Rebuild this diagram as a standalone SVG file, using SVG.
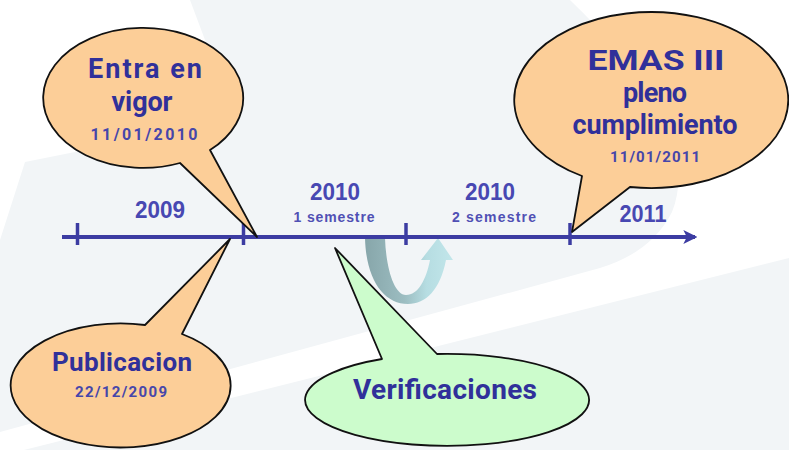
<svg xmlns="http://www.w3.org/2000/svg" width="789" height="450" viewBox="0 0 789 450">
  <defs>
    <style>
      .bg { fill: #f2f5f7; }
      .balloon { stroke: #111; stroke-width: 1.8; stroke-linejoin: round; }
      .peach { fill: #fcce98; }
      .green { fill: #ccfccc; }
      .bt { font-family: Roboto, "Liberation Sans", sans-serif; font-weight: bold; fill: #30309a; text-anchor: middle; }
      .date { font-family: Roboto, "Liberation Sans", sans-serif; font-weight: bold; fill: #4646aa; text-anchor: middle; }
      .year { font-family: "Liberation Sans", Arial, sans-serif; font-weight: bold; fill: #4848b2; text-anchor: middle; }
      .sem { font-family: "Liberation Sans", Arial, sans-serif; font-weight: bold; fill: #5050b4; text-anchor: middle; }
      .axis { stroke: #3c3ca2; stroke-width: 4; fill: none; }
      .tick { stroke: #3c3ca2; stroke-width: 3.5; }
    </style>
    <marker id="arrowEnd" viewBox="0 0 12 12" refX="10" refY="6" markerUnits="userSpaceOnUse" markerWidth="14" markerHeight="14" orient="auto">
      <path d="M0,0 L12,6 L0,12 L3,6 Z" fill="#3c3ca2"/>
    </marker>
    <linearGradient id="uturn" x1="365" y1="0" x2="453" y2="0" gradientUnits="userSpaceOnUse">
      <stop offset="0" stop-color="#87a6aa"/>
      <stop offset="0.45" stop-color="#9cbdc1"/>
      <stop offset="0.7" stop-color="#b6dde2"/>
      <stop offset="1" stop-color="#c2e6ea"/>
    </linearGradient>
  </defs>

  <!-- background -->
  <rect width="789" height="450" fill="#ffffff"/>
  <path class="bg" d="M190,0 L570,0 Q705,130 672,212 Q652,252 600,268 L0,432 L0,240 L25,162 L235,120 Z"/>
  <path class="bg" d="M0,456 L789,258 L789,450 Z"/>

  <!-- connectors: timeline and turn arrow -->
  <g id="connectors">
    <path id="uturn-arrow" d="M365,238 L385,238 C386,268 394,295 406,295 C418,295 426,280 430,260 L421,260 L438,238 L453,260 L446,260 C440,290 426,304 408,304 C384,304 366,280 365,238 Z" fill="url(#uturn)"/>
    <line class="axis" x1="62" y1="237" x2="695" y2="237" marker-end="url(#arrowEnd)"/>
    <line class="tick" x1="77.5" y1="223" x2="77.5" y2="245"/>
    <line class="tick" x1="243.5" y1="223" x2="243.5" y2="245"/>
    <line class="tick" x1="406" y1="223" x2="406" y2="245"/>
    <line class="tick" x1="570" y1="223" x2="570" y2="245"/>
  </g>

  <!-- period labels -->
  <g id="label-2009">
    <text class="year" x="160" y="218" font-size="23" textLength="50" lengthAdjust="spacingAndGlyphs">2009</text>
  </g>
  <g id="label-2010-1">
    <text class="year" x="335" y="200" font-size="23" textLength="50" lengthAdjust="spacingAndGlyphs">2010</text>
    <text class="sem" x="334" y="222" font-size="14" textLength="81">1 semestre</text>
  </g>
  <g id="label-2010-2">
    <text class="year" x="490" y="200" font-size="23" textLength="50" lengthAdjust="spacingAndGlyphs">2010</text>
    <text class="sem" x="494" y="222" font-size="14" textLength="84">2 semestre</text>
  </g>
  <g id="label-2011">
    <text class="year" x="643" y="222" font-size="23" textLength="47" lengthAdjust="spacingAndGlyphs">2011</text>
  </g>

  <!-- balloons -->
  <g id="node-entra">
    <path class="balloon peach" d="M180,163 A100,70 0 1 1 210,150 L257,237 Z"/>
    <text class="bt" x="145" y="78" font-size="27" textLength="114">Entra en</text>
    <text class="bt" x="142" y="111" font-size="27" textLength="61">vigor</text>
    <text class="date" x="144" y="140" font-size="16" textLength="107">11/01/2010</text>
  </g>

  <g id="node-emas">
    <path class="balloon peach" d="M582,176 A137,88 0 1 1 630,187 L572,232 Z"/>
    <text class="bt" x="656" y="70" font-size="28" textLength="137" lengthAdjust="spacingAndGlyphs">EMAS III</text>
    <text class="bt" x="655" y="102" font-size="27" textLength="64">pleno</text>
    <text class="bt" x="655" y="134" font-size="27" textLength="165">cumplimiento</text>
    <text class="date" x="655" y="162" font-size="15" textLength="90">11/01/2011</text>
  </g>

  <g id="node-publicacion">
    <path class="balloon peach" d="M182,334 A110,62 0 1 1 145,325 L230,239 Z"/>
    <text class="bt" x="122" y="371" font-size="26" textLength="140">Publicacion</text>
    <text class="date" x="121" y="397" font-size="15" textLength="92">22/12/2009</text>
  </g>

  <g id="node-verificaciones">
    <path class="balloon green" d="M437,354 A142,46 0 1 1 382,359 L335,248 Z"/>
    <text class="bt" x="445" y="399" font-size="28" textLength="184">Verificaciones</text>
  </g>
</svg>
